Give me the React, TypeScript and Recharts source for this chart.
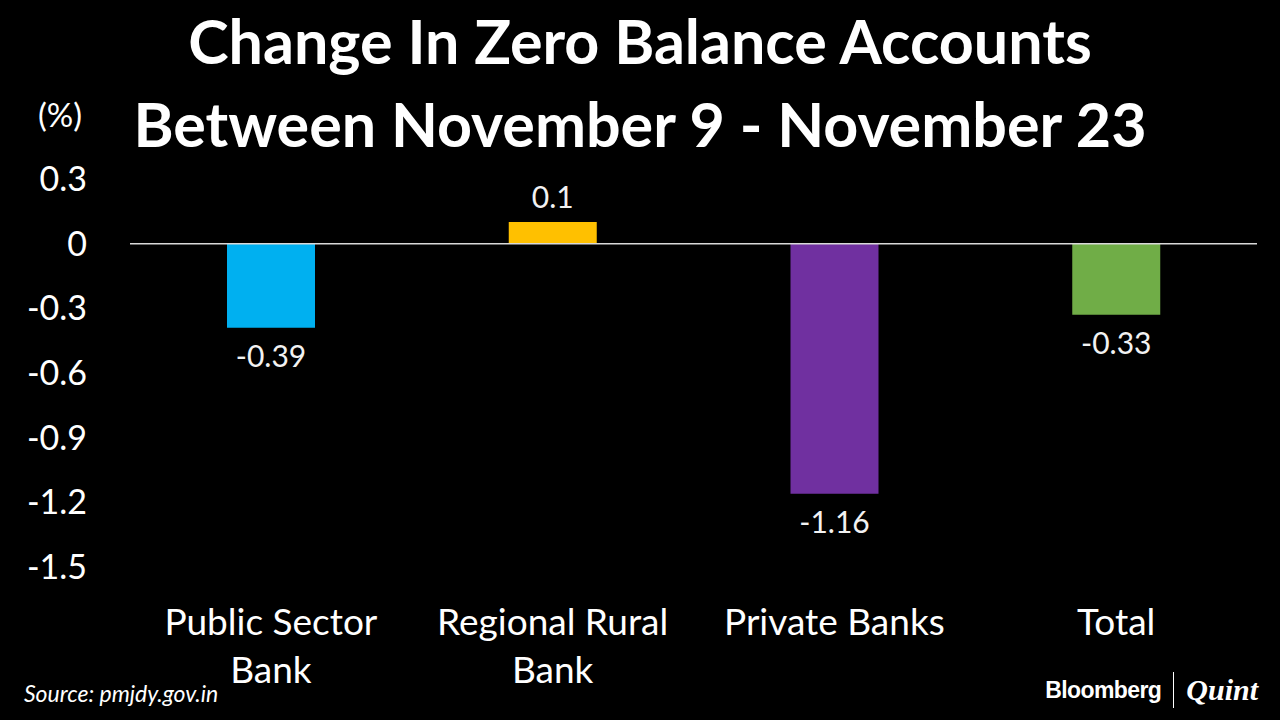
import { BarChart, Bar, XAxis, YAxis, ReferenceLine, Cell, LabelList } from 'recharts';

const categories = ['Public Sector\nBank', 'Regional Rural\nBank', 'Private Banks', 'Total'];
const changes = [-0.39, 0.1, -1.16, -0.33];
const barColors = ['#00B0F0', '#FFC000', '#7030A0', '#70AD47'];
const yTicks = [0.3, 0, -0.3, -0.6, -0.9, -1.2, -1.5];

const data = categories.map((name, i) => ({ name, value: changes[i] }));

const FONT = 'Lato, "Open Sans", sans-serif';

function CategoryTick(props: any) {
  const { x, y, payload } = props;
  const lines = String(payload.value).split('\n');
  return (
    <text x={x} y={y} textAnchor="middle" fill="#fff" fontSize={37} fontFamily={FONT}>
      {lines.map((line, i) => (
        <tspan key={i} x={x} dy={i === 0 ? 60 : 48}>
          {line}
        </tspan>
      ))}
    </text>
  );
}

function ValueLabel(props: any) {
  const { x, y, width, height, value } = props;
  const top = Math.min(y, y + height);
  const bottom = Math.max(y, y + height);
  const cx = x + width / 2;
  const ty = value < 0 ? bottom + 39 : top - 14;
  return (
    <text x={cx} y={ty} textAnchor="middle" fill="#f2f2f2" fontSize={30} fontFamily={FONT}>
      {value}
    </text>
  );
}

export default function App() {
  return (
    <div
      style={{
        position: 'fixed',
        left: 0,
        top: 0,
        width: 1280,
        height: 720,
        background: '#000',
        fontFamily: FONT,
        overflow: 'hidden',
      }}
    >
      <div
        style={{
          position: 'absolute',
          top: 6,
          width: '100%',
          textAlign: 'center',
          color: '#fff',
          fontWeight: 700,
          fontSize: 61,
          lineHeight: '70px',
        }}
      >
        Change In Zero Balance Accounts
      </div>
      <div
        style={{
          position: 'absolute',
          top: 89,
          width: '100%',
          textAlign: 'center',
          color: '#fff',
          fontWeight: 700,
          fontSize: 61,
          lineHeight: '70px',
        }}
      >
        Between November 9 - November 23
      </div>
      <div style={{ position: 'absolute', left: 38, top: 94, color: '#fff', fontSize: 33 }}>(%)</div>

      <BarChart
        width={1280}
        height={720}
        data={data}
        margin={{ top: 179, right: 23, bottom: 33, left: 0 }}
      >
        <XAxis
          dataKey="name"
          axisLine={false}
          tickLine={false}
          interval={0}
          height={120}
          tick={<CategoryTick />}
        />
        <YAxis
          width={130}
          domain={[-1.5, 0.3]}
          ticks={yTicks}
          axisLine={false}
          tickLine={false}
          tickSize={0}
          tickMargin={43}
          tick={{ fill: '#fff', fontSize: 34, fontFamily: FONT }}
        />
        <ReferenceLine y={0} stroke="#d9d9d9" strokeWidth={1.5} />
        <Bar dataKey="value" barSize={88} isAnimationActive={false}>
          {data.map((d, i) => (
            <Cell key={d.name} fill={barColors[i]} />
          ))}
          <LabelList dataKey="value" content={<ValueLabel />} />
        </Bar>
      </BarChart>

      <div
        style={{
          position: 'absolute',
          left: 24,
          top: 679,
          color: '#fff',
          fontStyle: 'italic',
          fontSize: 23,
        }}
      >
        Source: pmjdy.gov.in
      </div>
      <div
        style={{
          position: 'absolute',
          right: 22,
          top: 672,
          color: '#fff',
          display: 'flex',
          alignItems: 'center',
        }}
      >
        <span style={{ fontFamily: '"Liberation Sans", Arial, sans-serif', fontWeight: 700, fontSize: 23, letterSpacing: -0.6 }}>
          Bloomberg
        </span>
        <span style={{ display: 'inline-block', width: 1, height: 36, background: '#fff', margin: '0 12px' }} />
        <span style={{ fontFamily: '"Liberation Serif", serif', fontStyle: 'italic', fontWeight: 700, fontSize: 30 }}>
          Quint
        </span>
      </div>
    </div>
  );
}
